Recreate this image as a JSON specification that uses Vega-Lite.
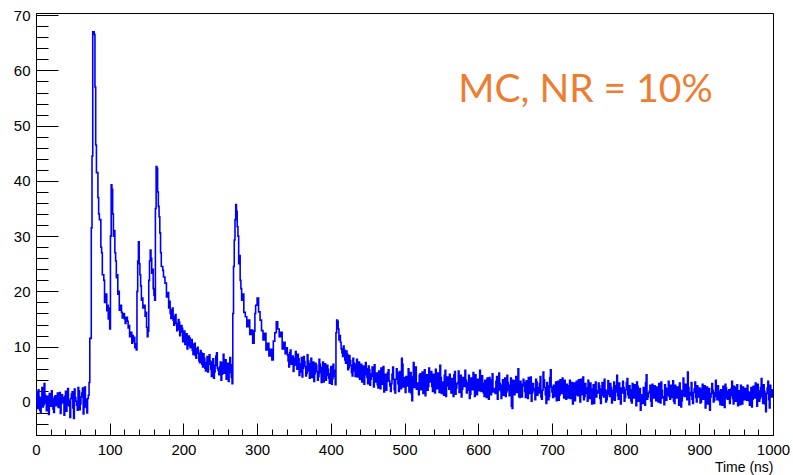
{
"$schema":"https://vega.github.io/schema/vega-lite/v6.json",
"width":737,"height":422,
"autosize":{"type":"none"},
"padding":{"left":36,"top":13,"right":20,"bottom":40},
"background":"white",
"config":{"view":{"stroke":"black","strokeWidth":1},"axis":{"grid":false,"domainColor":"black","tickColor":"black","labelColor":"black","labelFont":"Liberation Sans","labelFontSize":15,"titleFont":"Liberation Sans","titleColor":"black","labelOverlap":false,"labelFlush":false,"tickWidth":1}},
"encoding":{
"x":{"field":"t","type":"quantitative","scale":{"domain":[0,1000],"nice":false,"zero":false},
"axis":{"values":[0,20,40,60,80,100,120,140,160,180,200,220,240,260,280,300,320,340,360,380,400,420,440,460,480,500,520,540,560,580,600,620,640,660,680,700,720,740,760,780,800,820,840,860,880,900,920,940,960,980,1000],
"format":"d",
"labelExpr":"datum.value % 100 === 0 ? datum.label : ''",
"tickSize":{"condition":{"test":"datum.value % 100 === 0","value":-12},"value":-6},
"labelPadding":19,"title":"Time (ns)","titleAnchor":"end","titleAlign":"right","titleFontSize":14,"titleFontWeight":"normal","titlePadding":-3}},
"y":{"field":"v","type":"quantitative","scale":{"domain":[-6,70.4],"nice":false,"zero":false},
"axis":{"values":[-6,-4,-2,0,2,4,6,8,10,12,14,16,18,20,22,24,26,28,30,32,34,36,38,40,42,44,46,48,50,52,54,56,58,60,62,64,66,68,70],
"labelExpr":"datum.value % 10 === 0 ? datum.label : ''",
"tickSize":{"condition":{"test":"datum.value % 10 === 0","value":-22},"value":-12},
"labelPadding":28,"title":null}}
},
"layer":[
{"data":{"values":[
{"t":0,"v":1.8},{"t":2,"v":-1.2},{"t":4,"v":0.9},{"t":6,"v":-2.0},{"t":8,"v":2.6},{"t":10,"v":-0.5},{"t":12,"v":1.2},{"t":14,"v":-1.6},{"t":16,"v":0.4},{"t":18,"v":1.5},{"t":20,"v":-0.8},{"t":22,"v":0.6},{"t":24,"v":-1.9},{"t":26,"v":1.1},{"t":28,"v":0.2},{"t":30,"v":-1.0},{"t":32,"v":1.7},{"t":34,"v":-0.3},{"t":36,"v":0.8},{"t":38,"v":-2.4},{"t":40,"v":1.9},{"t":42,"v":-0.6},{"t":44,"v":0.3},{"t":46,"v":-2.8},{"t":48,"v":1.4},{"t":50,"v":-1.1},{"t":52,"v":2.3},{"t":54,"v":0.1},{"t":56,"v":-1.5},{"t":58,"v":2.0},{"t":60,"v":-0.4},{"t":62,"v":1.6},{"t":64,"v":-2.2},{"t":66,"v":2.7},{"t":68,"v":-0.9},{"t":70,"v":0.6},
{"t":1,"v":-0.4},{"t":3,"v":2.2},{"t":5,"v":-1.5},{"t":7,"v":0.7},{"t":9,"v":-0.9},{"t":11,"v":3.3},{"t":13,"v":-0.2},{"t":15,"v":1.0},{"t":17,"v":-2.3},{"t":19,"v":0.4},{"t":21,"v":2.0},{"t":23,"v":-1.3},{"t":25,"v":0.9},{"t":27,"v":-0.7},{"t":29,"v":1.6},{"t":31,"v":0.3},{"t":33,"v":-2.1},{"t":35,"v":1.3},{"t":37,"v":-0.1},{"t":39,"v":1.0},{"t":41,"v":-1.7},{"t":43,"v":2.4},{"t":45,"v":-0.8},{"t":47,"v":0.6},{"t":49,"v":1.8},{"t":51,"v":-3.0},{"t":53,"v":0.8},{"t":55,"v":-0.6},{"t":57,"v":2.6},{"t":59,"v":-1.4},{"t":61,"v":0.9},{"t":63,"v":2.5},{"t":65,"v":-1.0},{"t":67,"v":0.5},{"t":69,"v":-2.0},{"t":71,"v":1.2},
{"t":72,"v":3.5},{"t":73,"v":11.5},{"t":75,"v":31.5},{"t":76,"v":44.5},{"t":77,"v":67},{"t":79,"v":66.5},{"t":80,"v":57},{"t":81,"v":46.5},{"t":82,"v":41.5},{"t":84,"v":37},{"t":85,"v":34},{"t":86,"v":33},{"t":88,"v":28},{"t":89,"v":27},{"t":90,"v":23},{"t":92,"v":22},{"t":93,"v":18},{"t":94,"v":19.5},{"t":96,"v":16.5},{"t":97,"v":17.5},{"t":98,"v":15},{"t":99,"v":17},{"t":100,"v":13.2},
{"t":101,"v":30},{"t":102,"v":39.3},{"t":103,"v":38.5},{"t":104,"v":34},{"t":105,"v":30},{"t":106,"v":31},{"t":107,"v":27},{"t":108,"v":25.5},{"t":109,"v":22.5},{"t":110,"v":23},{"t":111,"v":19.5},{"t":112,"v":20},{"t":113,"v":16.6},{"t":114,"v":17.5},{"t":116,"v":16.2},{"t":117,"v":15.2},{"t":118,"v":16},{"t":120,"v":15},{"t":121,"v":14.2},{"t":122,"v":15.3},{"t":124,"v":14.6},{"t":125,"v":13.4},{"t":126,"v":13.8},{"t":127,"v":11.8},{"t":128,"v":12.6},{"t":130,"v":10.6},{"t":131,"v":12},{"t":132,"v":10.9},{"t":133,"v":11.7},{"t":134,"v":9.8},{"t":135,"v":10.5},{"t":136,"v":9.4},
{"t":137,"v":20},{"t":138,"v":25.5},{"t":139,"v":29},{"t":140,"v":25},{"t":141,"v":23},{"t":142,"v":21},{"t":143,"v":18.4},{"t":144,"v":18.8},{"t":145,"v":17},{"t":146,"v":17.5},{"t":148,"v":15.5},{"t":149,"v":16.2},{"t":150,"v":13.5},{"t":151,"v":11.8},{"t":152,"v":12.8},
{"t":153,"v":22},{"t":154,"v":25.5},{"t":155,"v":27.5},{"t":156,"v":26},{"t":157,"v":23.3},{"t":158,"v":24},{"t":159,"v":20.5},{"t":160,"v":19.3},{"t":161,"v":18.4},
{"t":162,"v":35},{"t":163,"v":42.6},{"t":164,"v":42.3},{"t":165,"v":38},{"t":166,"v":35.4},{"t":167,"v":33.5},{"t":168,"v":30.6},{"t":169,"v":27},{"t":170,"v":24.5},{"t":172,"v":23.8},{"t":173,"v":22.6},{"t":175,"v":21.5},{"t":177,"v":19},{"t":178,"v":19.8},{"t":180,"v":17},{"t":182,"v":16},{"t":184,"v":16.6},{"t":186,"v":14.8},{"t":188,"v":15.5},{"t":190,"v":14.2},{"t":192,"v":13.1},{"t":194,"v":14.4},{"t":196,"v":12.6},{"t":198,"v":13.3},{"t":200,"v":12},{"t":202,"v":10.4},{"t":204,"v":12.3},{"t":206,"v":10.2},{"t":208,"v":11.6},{"t":210,"v":10.9},{"t":212,"v":9.3},{"t":214,"v":10.4},{"t":216,"v":8.4},{"t":218,"v":9.6},{"t":220,"v":8.8},{"t":222,"v":7.1},{"t":224,"v":8.9},{"t":226,"v":6.3},{"t":228,"v":7.9},{"t":230,"v":5.6},{"t":232,"v":8.2},{"t":234,"v":6.8},{"t":236,"v":7.4},
{"t":181,"v":18.2},{"t":183,"v":15.1},{"t":185,"v":17.0},{"t":187,"v":13.9},{"t":189,"v":15.8},{"t":191,"v":12.9},{"t":193,"v":14.9},{"t":195,"v":12.0},{"t":197,"v":13.8},{"t":199,"v":10.9},{"t":201,"v":12.8},{"t":203,"v":11.1},{"t":205,"v":9.6},{"t":207,"v":11.9},{"t":209,"v":9.8},{"t":211,"v":11.3},{"t":213,"v":8.6},{"t":215,"v":10.6},{"t":217,"v":7.9},{"t":219,"v":9.9},{"t":221,"v":7.4},{"t":223,"v":9.3},{"t":225,"v":6.8},{"t":227,"v":8.7},{"t":229,"v":6.1},{"t":231,"v":7.1},{"t":233,"v":5.4},{"t":235,"v":8.5},
{"t":238,"v":4.6},{"t":240,"v":7.8},{"t":242,"v":5.4},{"t":244,"v":8.3},{"t":246,"v":6.1},{"t":248,"v":4.9},{"t":250,"v":7.2},{"t":252,"v":5.0},{"t":254,"v":8.6},{"t":256,"v":6.2},{"t":258,"v":4.1},{"t":260,"v":7.0},{"t":262,"v":5.3},{"t":264,"v":6.7},{"t":266,"v":3.3},
{"t":237,"v":5.9},{"t":239,"v":7.2},{"t":241,"v":4.3},{"t":243,"v":6.6},{"t":245,"v":8.9},{"t":247,"v":5.7},{"t":249,"v":6.4},{"t":251,"v":3.9},{"t":253,"v":7.1},{"t":255,"v":5.2},{"t":257,"v":7.6},{"t":259,"v":5.5},{"t":261,"v":3.7},{"t":263,"v":8.0},{"t":265,"v":4.4},
{"t":267,"v":16},{"t":268,"v":24.5},{"t":269,"v":29.3},{"t":270,"v":33},{"t":271,"v":35.7},{"t":272,"v":34.5},{"t":273,"v":31.7},{"t":274,"v":30},{"t":275,"v":25},{"t":276,"v":26.5},{"t":277,"v":22},{"t":278,"v":20.5},{"t":279,"v":18.4},{"t":280,"v":19.5},{"t":282,"v":16.2},{"t":284,"v":15.4},{"t":286,"v":13.6},{"t":288,"v":14.8},{"t":290,"v":12.2},{"t":292,"v":13.0},{"t":294,"v":10.6},{"t":296,"v":12.8},{"t":297,"v":16},{"t":298,"v":17.5},{"t":300,"v":18.8},{"t":302,"v":16.3},{"t":304,"v":14.8},{"t":306,"v":12.9},{"t":308,"v":11.2},{"t":310,"v":12.4},{"t":312,"v":9.4},{"t":314,"v":10.6},{"t":316,"v":8.3},{"t":318,"v":9.5},{"t":320,"v":7.6},{"t":322,"v":11},{"t":324,"v":12.5},{"t":326,"v":14.5},{"t":328,"v":13.2},{"t":330,"v":11.8},{"t":332,"v":12.6},{"t":334,"v":9.6},{"t":336,"v":10.8},{"t":338,"v":8.7},{"t":340,"v":9.8},{"t":342,"v":7.4},{"t":344,"v":8.9},{"t":346,"v":6.8},{"t":348,"v":8.3},{"t":350,"v":6.6},{"t":352,"v":9.1},{"t":354,"v":5.9},{"t":356,"v":7.8},{"t":358,"v":5.4},{"t":360,"v":8.0},{"t":362,"v":6.1},{"t":364,"v":7.3},{"t":366,"v":4.7},{"t":368,"v":8.5},{"t":370,"v":5.6},{"t":372,"v":6.9},{"t":374,"v":4.4},{"t":376,"v":7.2},{"t":378,"v":5.1},{"t":380,"v":6.6},{"t":382,"v":3.9},{"t":384,"v":7.7},{"t":386,"v":5.3},{"t":388,"v":6.2},{"t":390,"v":3.6},{"t":392,"v":6.9},{"t":394,"v":4.8},{"t":396,"v":5.9},{"t":398,"v":3.4},{"t":400,"v":6.4},{"t":402,"v":4.2},{"t":404,"v":5.7},{"t":406,"v":3.1},
{"t":341,"v":8.5},{"t":343,"v":6.3},{"t":345,"v":9.4},{"t":347,"v":7.1},{"t":349,"v":5.5},{"t":351,"v":7.9},{"t":353,"v":6.7},{"t":355,"v":8.6},{"t":357,"v":4.8},{"t":359,"v":6.9},{"t":361,"v":4.5},{"t":363,"v":8.2},{"t":365,"v":6.4},{"t":367,"v":5.2},{"t":369,"v":7.4},{"t":371,"v":4.3},{"t":373,"v":7.9},{"t":375,"v":5.8},{"t":377,"v":3.7},{"t":379,"v":7.0},{"t":381,"v":5.5},{"t":383,"v":4.6},{"t":385,"v":6.8},{"t":387,"v":3.5},{"t":389,"v":7.2},{"t":391,"v":5.0},{"t":393,"v":3.9},{"t":395,"v":6.6},{"t":397,"v":4.3},{"t":399,"v":5.1},{"t":401,"v":3.2},{"t":403,"v":6.8},{"t":405,"v":4.6},
{"t":407,"v":12.5},{"t":408,"v":14.8},{"t":409,"v":14.6},{"t":410,"v":13.2},{"t":411,"v":11.2},{"t":412,"v":12.0},{"t":414,"v":9.6},{"t":416,"v":8.2},{"t":418,"v":9.4},{"t":420,"v":7.0},{"t":422,"v":8.6},{"t":424,"v":6.2},{"t":426,"v":7.5},{"t":428,"v":5.3},{"t":430,"v":7.9},{"t":432,"v":5.6},{"t":434,"v":6.8},{"t":436,"v":4.5},{"t":438,"v":7.2},{"t":440,"v":5.4},{"t":442,"v":3.6},{"t":444,"v":6.5},{"t":446,"v":4.9},{"t":448,"v":6.0},{"t":450,"v":3.3},{"t":452,"v":5.8},{"t":454,"v":4.1},{"t":456,"v":6.3},{"t":458,"v":2.7},{"t":460,"v":5.2},
{"t":413,"v":10.8},{"t":415,"v":8.9},{"t":417,"v":10.1},{"t":419,"v":7.6},{"t":421,"v":9.2},{"t":423,"v":5.8},{"t":425,"v":8.4},{"t":427,"v":6.6},{"t":429,"v":4.7},{"t":431,"v":7.0},{"t":433,"v":4.6},{"t":435,"v":7.7},{"t":437,"v":5.9},{"t":439,"v":4.1},{"t":441,"v":6.8},{"t":443,"v":5.0},{"t":445,"v":3.2},{"t":447,"v":7.1},{"t":449,"v":4.4},{"t":451,"v":6.5},{"t":453,"v":3.0},{"t":455,"v":5.1},{"t":457,"v":4.6},{"t":459,"v":6.7},{"t":461,"v":3.6},
{"t":462,"v":5.2},{"t":464,"v":2.5},{"t":466,"v":4.4},{"t":468,"v":6.1},{"t":470,"v":3.2},{"t":472,"v":1.8},{"t":474,"v":5.0},{"t":476,"v":3.7},{"t":478,"v":5.8},{"t":480,"v":2.9},
{"t":482,"v":3.3},{"t":484,"v":6.3},{"t":486,"v":2.2},{"t":488,"v":4.1},{"t":490,"v":5.2},{"t":492,"v":1.9},{"t":494,"v":4.6},{"t":496,"v":7.9},{"t":498,"v":2.7},{"t":500,"v":3.5},
{"t":502,"v":4.6},{"t":504,"v":3.5},{"t":506,"v":1.8},{"t":508,"v":5.3},{"t":510,"v":0.2},{"t":512,"v":7.1},{"t":514,"v":5.9},{"t":516,"v":2.3},{"t":518,"v":3.2},{"t":520,"v":4.8},
{"t":522,"v":2.2},{"t":524,"v":5.4},{"t":526,"v":3.6},{"t":528,"v":1.1},{"t":530,"v":4.9},{"t":532,"v":2.8},{"t":534,"v":4.3},{"t":536,"v":5.5},{"t":538,"v":1.9},{"t":540,"v":4.0},
{"t":542,"v":5.9},{"t":544,"v":2.4},{"t":546,"v":3.9},{"t":548,"v":6.6},{"t":550,"v":1.5},{"t":552,"v":3.2},{"t":554,"v":4.8},{"t":556,"v":1.0},{"t":558,"v":4.5},{"t":560,"v":2.3},
{"t":562,"v":2.9},{"t":564,"v":4.2},{"t":566,"v":1.0},{"t":568,"v":5.5},{"t":570,"v":2.5},{"t":572,"v":3.5},{"t":574,"v":1.7},{"t":576,"v":4.8},{"t":578,"v":2.3},{"t":580,"v":4.0},
{"t":582,"v":5.7},{"t":584,"v":1.6},{"t":586,"v":3.5},{"t":588,"v":0.6},{"t":590,"v":4.3},{"t":592,"v":2.2},{"t":594,"v":3.7},{"t":596,"v":4.9},{"t":598,"v":1.3},{"t":600,"v":3.4},
{"t":602,"v":5.7},{"t":604,"v":1.9},{"t":606,"v":3.4},{"t":608,"v":1.0},{"t":610,"v":2.7},{"t":612,"v":4.3},{"t":614,"v":0.5},{"t":616,"v":4.0},{"t":618,"v":3.0},{"t":620,"v":1.8},
{"t":622,"v":2.4},{"t":624,"v":3.7},{"t":626,"v":0.5},{"t":628,"v":5.2},{"t":630,"v":2.0},{"t":632,"v":3.0},{"t":634,"v":1.2},{"t":636,"v":4.3},{"t":638,"v":1.8},{"t":640,"v":3.5},
{"t":642,"v":1.1},{"t":644,"v":4.3},{"t":646,"v":-1.2},{"t":648,"v":2.5},{"t":650,"v":3.8},{"t":652,"v":1.7},{"t":654,"v":6.0},{"t":656,"v":0.8},{"t":658,"v":3.2},{"t":660,"v":2.9},
{"t":662,"v":3.5},{"t":664,"v":0.8},{"t":666,"v":2.7},{"t":668,"v":4.4},{"t":670,"v":1.5},{"t":672,"v":0.1},{"t":674,"v":3.3},{"t":676,"v":2.0},{"t":678,"v":4.1},{"t":680,"v":1.2},
{"t":682,"v":1.6},{"t":684,"v":4.6},{"t":686,"v":0.5},{"t":688,"v":5.4},{"t":690,"v":2.6},{"t":692,"v":-0.3},{"t":694,"v":2.9},{"t":696,"v":1.0},{"t":698,"v":5.8},{"t":700,"v":1.8},
{"t":702,"v":3.0},{"t":704,"v":1.9},{"t":706,"v":0.2},{"t":708,"v":3.7},{"t":710,"v":1.2},{"t":712,"v":2.4},{"t":714,"v":4.3},{"t":716,"v":0.7},{"t":718,"v":1.6},{"t":720,"v":3.2},
{"t":722,"v":0.7},{"t":724,"v":3.9},{"t":726,"v":2.1},{"t":728,"v":-0.4},{"t":730,"v":3.4},{"t":732,"v":1.3},{"t":734,"v":2.8},{"t":736,"v":4.0},{"t":738,"v":0.0},{"t":740,"v":2.5},
{"t":742,"v":4.5},{"t":744,"v":1.0},{"t":746,"v":2.5},{"t":748,"v":0.1},{"t":750,"v":1.8},{"t":752,"v":3.4},{"t":754,"v":-0.4},{"t":756,"v":3.1},{"t":758,"v":2.1},{"t":760,"v":0.9},
{"t":762,"v":1.6},{"t":764,"v":2.9},{"t":766,"v":-0.3},{"t":768,"v":3.5},{"t":770,"v":0.9},{"t":772,"v":2.2},{"t":774,"v":0.4},{"t":776,"v":3.8},{"t":778,"v":1.0},{"t":780,"v":2.6},
{"t":782,"v":0.4},{"t":784,"v":3.6},{"t":786,"v":1.8},{"t":788,"v":4.8},{"t":790,"v":0.5},{"t":792,"v":1.0},{"t":794,"v":2.5},{"t":796,"v":3.7},{"t":798,"v":0.1},{"t":800,"v":2.2},
{"t":802,"v":4.2},{"t":804,"v":0.7},{"t":806,"v":2.2},{"t":808,"v":-0.2},{"t":810,"v":1.5},{"t":812,"v":3.1},{"t":814,"v":-0.7},{"t":816,"v":2.8},{"t":818,"v":1.8},{"t":820,"v":-1.5},
{"t":822,"v":1.3},{"t":824,"v":2.6},{"t":826,"v":-0.6},{"t":828,"v":4.9},{"t":830,"v":0.9},{"t":832,"v":1.9},{"t":834,"v":0.1},{"t":836,"v":3.2},{"t":838,"v":0.7},{"t":840,"v":2.4},
{"t":842,"v":2.7},{"t":844,"v":0.0},{"t":846,"v":1.9},{"t":848,"v":3.6},{"t":850,"v":0.7},{"t":852,"v":-0.5},{"t":854,"v":2.5},{"t":856,"v":1.2},{"t":858,"v":3.7},{"t":860,"v":0.5},
{"t":862,"v":0.8},{"t":864,"v":3.8},{"t":866,"v":-0.3},{"t":868,"v":1.6},{"t":870,"v":2.7},{"t":872,"v":-0.6},{"t":874,"v":2.1},{"t":876,"v":0.2},{"t":878,"v":4.3},{"t":880,"v":1.0},
{"t":882,"v":2.3},{"t":884,"v":5.4},{"t":886,"v":-0.5},{"t":888,"v":1.7},{"t":890,"v":0.5},{"t":892,"v":1.7},{"t":894,"v":3.6},{"t":896,"v":0.0},{"t":898,"v":0.9},{"t":900,"v":2.5},
{"t":902,"v":0.0},{"t":904,"v":3.2},{"t":906,"v":1.4},{"t":908,"v":-1.1},{"t":910,"v":2.7},{"t":912,"v":0.6},{"t":914,"v":-1.5},{"t":916,"v":1.5},{"t":918,"v":2.1},{"t":920,"v":0.3},
{"t":922,"v":3.9},{"t":924,"v":0.4},{"t":926,"v":1.9},{"t":928,"v":-0.5},{"t":930,"v":1.2},{"t":932,"v":2.8},{"t":934,"v":-1.0},{"t":936,"v":2.5},{"t":938,"v":0.5},{"t":940,"v":2.2},
{"t":942,"v":1.1},{"t":944,"v":3.7},{"t":946,"v":-0.4},{"t":948,"v":1.5},{"t":950,"v":2.6},{"t":952,"v":-0.7},{"t":954,"v":2.0},{"t":956,"v":3.0},{"t":958,"v":-0.4},{"t":960,"v":1.8},
{"t":962,"v":2.4},{"t":964,"v":0.3},{"t":966,"v":1.8},{"t":968,"v":-0.6},{"t":970,"v":2.6},{"t":972,"v":0.5},{"t":974,"v":1.4},{"t":976,"v":3.4},{"t":978,"v":-0.8},{"t":980,"v":2.0},
{"t":982,"v":0.6},{"t":984,"v":4.2},{"t":986,"v":-0.3},{"t":988,"v":1.9},{"t":990,"v":-1.8},{"t":992,"v":2.5},{"t":994,"v":0.4},{"t":996,"v":3.0},{"t":998,"v":0.9},{"t":1000,"v":1.5},
{"t":463,"v":3.1},{"t":465,"v":5.6},{"t":467,"v":2.4},{"t":469,"v":4.9},{"t":471,"v":6.4},{"t":473,"v":3.0},{"t":475,"v":2.1},{"t":477,"v":5.3},{"t":479,"v":3.8},{"t":481,"v":1.9},
{"t":483,"v":5.0},{"t":485,"v":4.1},{"t":487,"v":1.6},{"t":489,"v":6.0},{"t":491,"v":3.3},{"t":493,"v":5.5},{"t":495,"v":2.4},{"t":497,"v":6.8},{"t":499,"v":4.4},{"t":501,"v":1.7},
{"t":503,"v":2.9},{"t":505,"v":6.0},{"t":507,"v":3.9},{"t":509,"v":1.5},{"t":511,"v":4.5},{"t":513,"v":2.6},{"t":515,"v":6.3},{"t":517,"v":3.4},{"t":519,"v":1.3},{"t":521,"v":5.1},
{"t":523,"v":4.2},{"t":525,"v":1.5},{"t":527,"v":5.8},{"t":529,"v":3.0},{"t":531,"v":2.1},{"t":533,"v":6.1},{"t":535,"v":3.6},{"t":537,"v":2.8},{"t":539,"v":5.0},{"t":541,"v":1.6},
{"t":543,"v":3.8},{"t":545,"v":5.2},{"t":547,"v":1.7},{"t":549,"v":4.4},{"t":551,"v":3.6},{"t":553,"v":1.2},{"t":555,"v":5.7},{"t":557,"v":2.9},{"t":559,"v":3.1},{"t":561,"v":5.0},
{"t":563,"v":1.6},{"t":565,"v":3.8},{"t":567,"v":4.9},{"t":569,"v":1.4},{"t":571,"v":3.3},{"t":573,"v":5.6},{"t":575,"v":2.6},{"t":577,"v":0.9},{"t":579,"v":4.4},{"t":581,"v":2.8},
{"t":583,"v":3.9},{"t":585,"v":2.1},{"t":587,"v":4.8},{"t":589,"v":1.4},{"t":591,"v":2.9},{"t":593,"v":5.3},{"t":595,"v":1.0},{"t":597,"v":3.3},{"t":599,"v":4.1},{"t":601,"v":2.0},
{"t":603,"v":3.1},{"t":605,"v":4.7},{"t":607,"v":1.6},{"t":609,"v":3.9},{"t":611,"v":0.8},{"t":613,"v":2.5},{"t":615,"v":4.4},{"t":617,"v":1.3},{"t":619,"v":5.1},{"t":621,"v":2.4},
{"t":623,"v":1.5},{"t":625,"v":4.6},{"t":627,"v":2.2},{"t":629,"v":3.3},{"t":631,"v":0.6},{"t":633,"v":4.0},{"t":635,"v":2.8},{"t":637,"v":1.0},{"t":639,"v":4.8},{"t":641,"v":2.1},
{"t":643,"v":3.0},{"t":645,"v":-0.8},{"t":647,"v":3.9},{"t":649,"v":1.3},{"t":651,"v":4.6},{"t":653,"v":2.2},{"t":655,"v":1.0},{"t":657,"v":3.7},{"t":659,"v":0.9},{"t":661,"v":4.1},
{"t":663,"v":1.9},{"t":665,"v":3.8},{"t":667,"v":0.6},{"t":669,"v":2.9},{"t":671,"v":4.5},{"t":673,"v":1.6},{"t":675,"v":2.4},{"t":677,"v":0.4},{"t":679,"v":3.6},{"t":681,"v":2.6},
{"t":683,"v":3.3},{"t":685,"v":0.9},{"t":687,"v":2.1},{"t":689,"v":4.0},{"t":691,"v":1.3},{"t":693,"v":3.5},{"t":695,"v":0.4},{"t":697,"v":4.4},{"t":699,"v":2.7},{"t":701,"v":0.8},
{"t":703,"v":1.0},{"t":705,"v":3.6},{"t":707,"v":2.6},{"t":709,"v":0.3},{"t":711,"v":4.0},{"t":713,"v":1.5},{"t":715,"v":2.3},{"t":717,"v":3.9},{"t":719,"v":0.5},{"t":721,"v":2.0},
{"t":723,"v":2.9},{"t":725,"v":0.6},{"t":727,"v":3.5},{"t":729,"v":1.8},{"t":731,"v":0.2},{"t":733,"v":3.7},{"t":735,"v":1.1},{"t":737,"v":2.2},{"t":739,"v":4.1},{"t":741,"v":1.3},
{"t":743,"v":0.4},{"t":745,"v":3.3},{"t":747,"v":1.5},{"t":749,"v":3.9},{"t":751,"v":0.6},{"t":753,"v":2.3},{"t":755,"v":1.2},{"t":757,"v":-0.3},{"t":759,"v":3.6},{"t":761,"v":2.0},
{"t":763,"v":3.4},{"t":765,"v":0.6},{"t":767,"v":2.3},{"t":769,"v":1.2},{"t":771,"v":4.1},{"t":773,"v":0.0},{"t":775,"v":2.0},{"t":777,"v":1.4},{"t":779,"v":3.3},{"t":781,"v":-0.2},
{"t":783,"v":2.1},{"t":785,"v":0.3},{"t":787,"v":2.9},{"t":789,"v":1.1},{"t":791,"v":3.4},{"t":793,"v":-0.4},{"t":795,"v":1.6},{"t":797,"v":2.6},{"t":799,"v":0.8},{"t":801,"v":3.5},
{"t":803,"v":1.3},{"t":805,"v":2.9},{"t":807,"v":0.2},{"t":809,"v":3.3},{"t":811,"v":0.7},{"t":813,"v":1.9},{"t":815,"v":3.6},{"t":817,"v":0.1},{"t":819,"v":2.4},{"t":821,"v":1.0},
{"t":823,"v":-0.3},{"t":825,"v":2.2},{"t":827,"v":3.5},{"t":829,"v":0.5},{"t":831,"v":1.6},{"t":833,"v":3.0},{"t":835,"v":-0.8},{"t":837,"v":1.8},{"t":839,"v":2.9},{"t":841,"v":0.2},
{"t":843,"v":1.4},{"t":845,"v":3.3},{"t":847,"v":-0.2},{"t":849,"v":2.1},{"t":851,"v":0.9},{"t":853,"v":3.1},{"t":855,"v":0.3},{"t":857,"v":2.4},{"t":859,"v":1.0},{"t":861,"v":3.0},
{"t":863,"v":2.2},{"t":865,"v":0.1},{"t":867,"v":3.0},{"t":869,"v":0.7},{"t":871,"v":1.5},{"t":873,"v":3.4},{"t":875,"v":-0.9},{"t":877,"v":2.0},{"t":879,"v":1.1},{"t":881,"v":3.2},
{"t":883,"v":0.4},{"t":885,"v":2.6},{"t":887,"v":1.2},{"t":889,"v":3.5},{"t":891,"v":-0.3},{"t":893,"v":2.3},{"t":895,"v":0.8},{"t":897,"v":2.9},{"t":899,"v":1.4},{"t":901,"v":-0.2},
{"t":903,"v":2.3},{"t":905,"v":0.5},{"t":907,"v":2.9},{"t":909,"v":1.3},{"t":911,"v":-0.4},{"t":913,"v":2.4},{"t":915,"v":0.9},{"t":917,"v":3.3},{"t":919,"v":0.0},{"t":921,"v":1.7},
{"t":923,"v":1.0},{"t":925,"v":2.9},{"t":927,"v":0.2},{"t":929,"v":2.2},{"t":931,"v":-0.6},{"t":933,"v":1.6},{"t":935,"v":3.2},{"t":937,"v":0.7},{"t":939,"v":1.9},{"t":941,"v":-0.3},
{"t":943,"v":2.4},{"t":945,"v":0.6},{"t":947,"v":2.8},{"t":949,"v":0.1},{"t":951,"v":3.1},{"t":953,"v":1.2},{"t":955,"v":-0.5},{"t":957,"v":1.9},{"t":959,"v":2.7},{"t":961,"v":0.4},
{"t":963,"v":1.1},{"t":965,"v":3.0},{"t":967,"v":0.2},{"t":969,"v":1.7},{"t":971,"v":-0.9},{"t":973,"v":2.8},{"t":975,"v":0.7},{"t":977,"v":1.3},{"t":979,"v":3.2},{"t":981,"v":0.1},
{"t":983,"v":2.6},{"t":985,"v":1.0},{"t":987,"v":3.1},{"t":989,"v":-0.4},{"t":991,"v":1.5},{"t":993,"v":3.7},{"t":995,"v":-1.1},{"t":997,"v":1.8},{"t":999,"v":2.2}
]},
"mark":{"type":"line","interpolate":"step-after","color":"#0000ff","strokeWidth":1.6,"clip":true}},
{"data":{"values":[{"label":"MC, NR = 10%","t":573,"v":54.3}]},
"mark":{"type":"text","align":"left","baseline":"alphabetic","font":"Lato","fontSize":39,"color":"#ED7D31"},
"encoding":{"text":{"field":"label","type":"nominal"}}}
]
}
